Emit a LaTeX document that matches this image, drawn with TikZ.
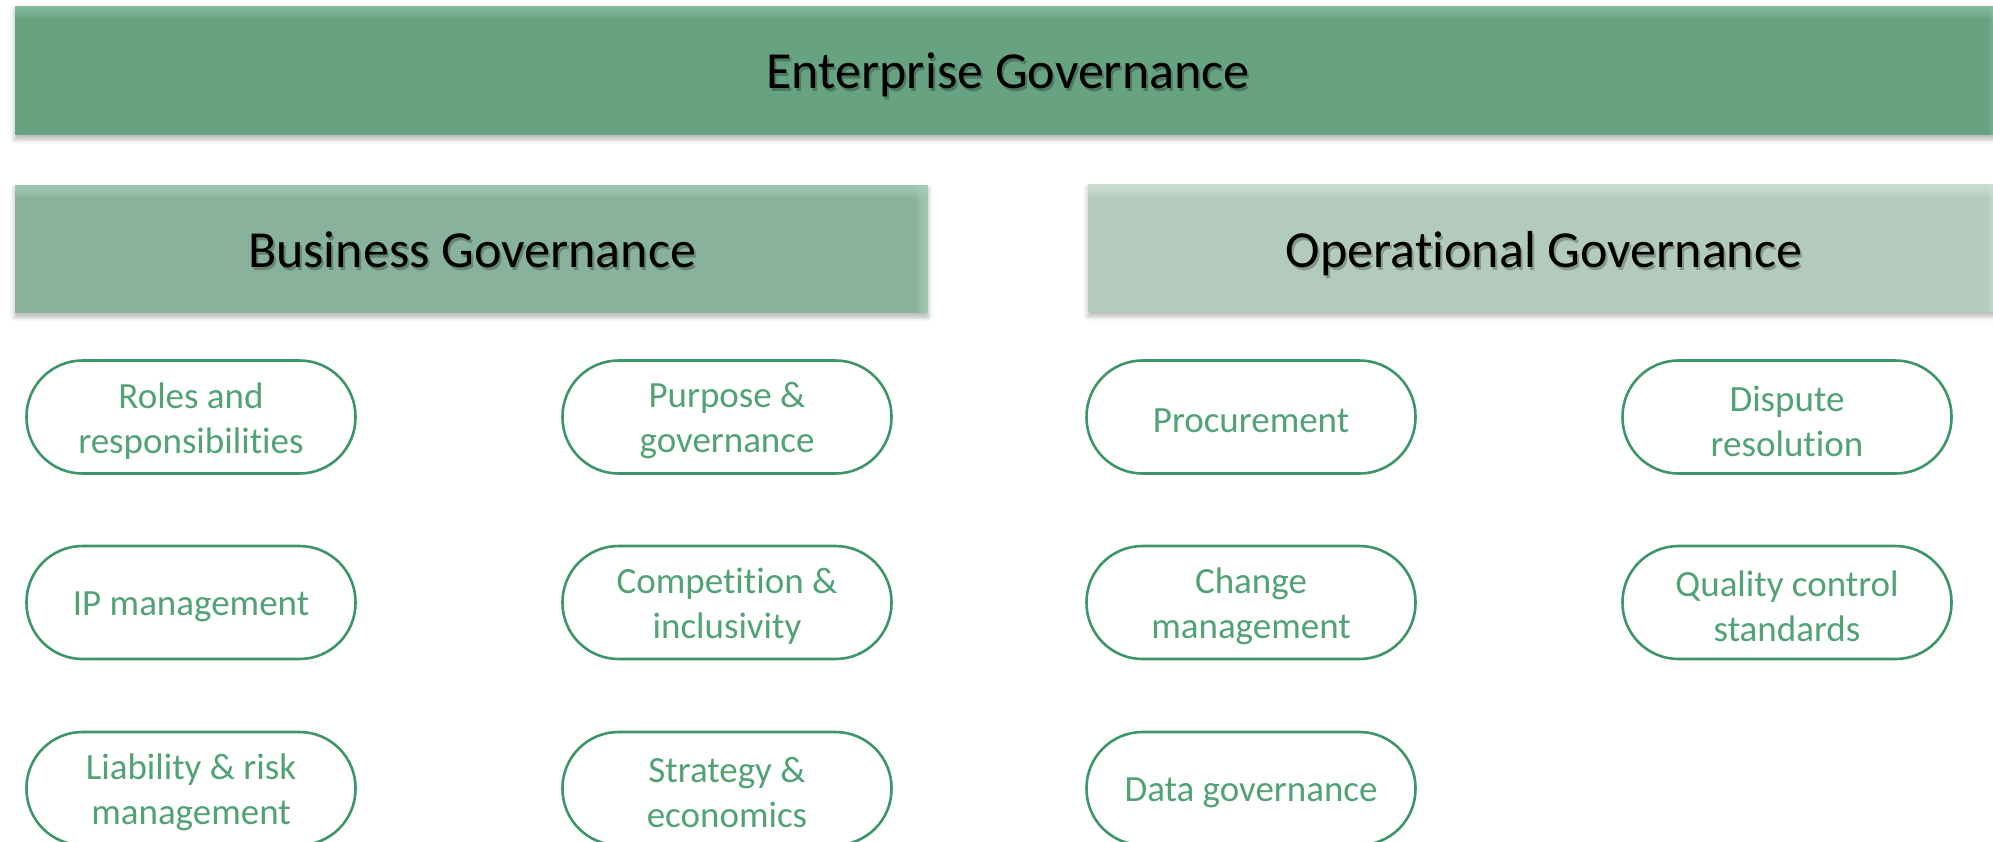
\documentclass[tikz,border=0pt]{standalone}
\usepackage{fontspec}
\setmainfont{Carlito}[Ligatures=NoCommon]
\usetikzlibrary{shadows.blur}

\definecolor{entfill}{HTML}{67A281}
\definecolor{entlight}{HTML}{8CC2A4}
\definecolor{busfill}{HTML}{88B29B}
\definecolor{buslight}{HTML}{AAD0BA}
\definecolor{opfill}{HTML}{B3CBBD}
\definecolor{oplight}{HTML}{D2E4DA}
\definecolor{pillline}{HTML}{3E9569}
\definecolor{pilltext}{HTML}{52A276}

\tikzset{
  bar/.style n args={2}{
    rectangle, inner sep=0pt, fill=#1,
    blur shadow={shadow xshift=0pt, shadow yshift=-4pt,
                 shadow blur radius=5pt, shadow opacity=30},
    path picture={
      % soft bevel: stacked translucent bands along the top and right edge
      \foreach \w in {2,4,...,12}
        \fill[#2, opacity=0.2]
          ([xshift=-\w pt]path picture bounding box.north east)
          rectangle (path picture bounding box.south east);
      \foreach \h in {2,4,...,12}
        \fill[#2, opacity=0.2]
          (path picture bounding box.north west)
          rectangle ([yshift=-\h pt]path picture bounding box.north east);
    }
  },
  bartext/.style={anchor=base, text=black, inner sep=0pt,
                  font=\fontsize{52}{62}\selectfont},
  barshade/.style={bartext, text=black, text opacity=0.25},
  pill/.style={
    rectangle, rounded corners=56pt, draw=pillline, line width=2.6pt,
    fill=white, minimum width=329pt, minimum height=113pt, inner sep=0pt
  },
  pilllabel/.style={
    inner sep=0pt, text=pilltext, align=center,
    font=\fontsize{37}{45}\selectfont
  }
}

% a rounded topic box with its caption set slightly below the centre
\newcommand\topicbox[3]{%
  \node[pill] (#1) at #2 {};
  \node[pilllabel] (#1-label) at ([yshift=-4pt]#1.center) {#3};
}

\begin{document}
\begin{tikzpicture}[x=1pt,y=-1pt]
\useasboundingbox (0,0) rectangle (1993,841);
\clip (0,0) rectangle (1993,841);

% header bars
\node[bar={entfill}{entlight}, minimum width=1986pt, minimum height=129pt]
  (ent) at (1008,70.5) {};
\node[bar={busfill}{buslight}, minimum width=913pt, minimum height=128pt]
  (bus) at (471.5,249) {};
\node[bar={opfill}{oplight}, minimum width=912pt, minimum height=128pt]
  (ops) at (1544,248) {};

% bar titles with a soft text shadow
\node[barshade] (entsh) at (1010,91) {Enterprise Governance};
\node[bartext]  (entt)  at (1008,88) {Enterprise Governance};
\node[barshade] (bussh) at (474,270) {Business Governance};
\node[bartext]  (bust)  at (472,267) {Business Governance};
\node[barshade] (opssh) at (1546,270) {Operational Governance};
\node[bartext]  (opst)  at (1544,267) {Operational Governance};

% business governance topics
\topicbox{roles}{(191,417)}{Roles and\\responsibilities}
\topicbox{ip}{(191,602.5)}{IP management}
\topicbox{liab}{(191,788.5)}{Liability \& risk\\management}
\topicbox{purp}{(727,417)}{Purpose \&\\governance}
\topicbox{comp}{(727,602.5)}{Competition \&\\inclusivity}
\topicbox{strat}{(727,788.5)}{Strategy \&\\economics}

% operational governance topics
\topicbox{proc}{(1251,417)}{Procurement}
\topicbox{change}{(1251,602.5)}{Change\\management}
\topicbox{data}{(1251,788.5)}{Data governance}
\topicbox{disp}{(1787,417)}{Dispute\\resolution}
\topicbox{qual}{(1787,602.5)}{Quality control\\standards}
\end{tikzpicture}
\end{document}
